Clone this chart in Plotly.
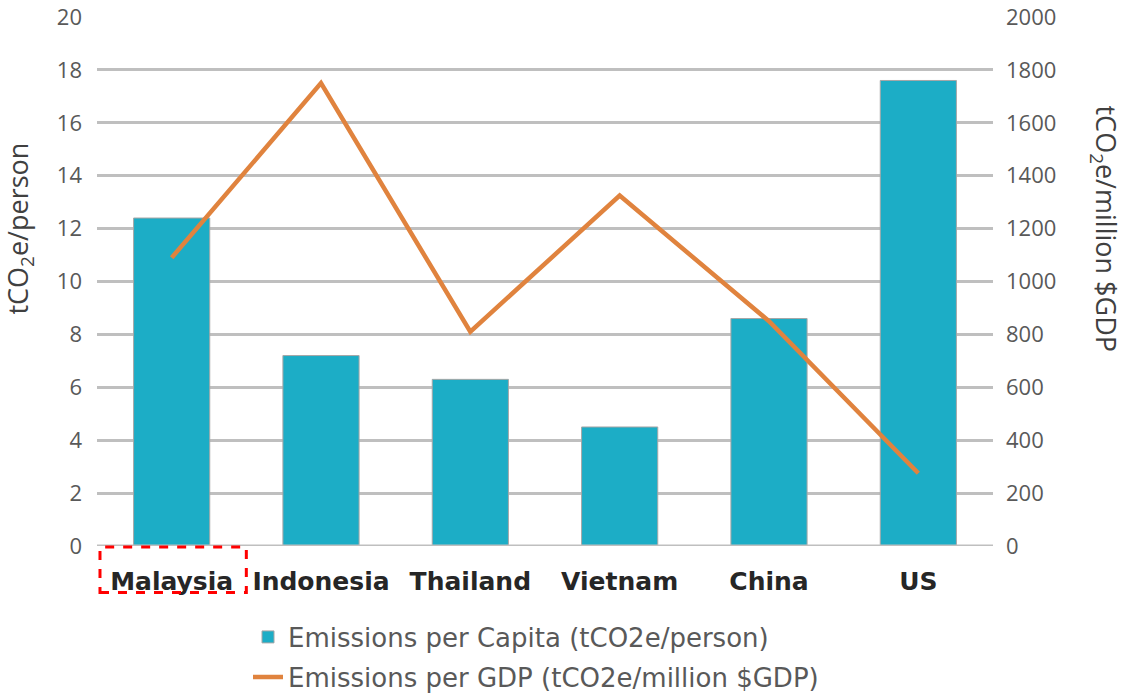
import plotly.graph_objects as go

countries = ["Malaysia", "Indonesia", "Thailand", "Vietnam", "China", "US"]
per_capita = [12.4, 7.2, 6.3, 4.5, 8.6, 17.6]
per_gdp = [1090, 1750, 810, 1325, 850, 275]

left_ticks = list(range(0, 21, 2))
right_ticks = list(range(0, 2001, 200))

tick_font = dict(family="Open Sans", size=22, color="#595959")
legend_font = dict(family="DejaVu Sans", size=26, color="#595959")
title_font = dict(family="Open Sans", size=27, color="#404040")

W, H = 1128, 695

fig = go.Figure()
fig.add_trace(go.Bar(
    x=countries, y=per_capita,
    name="Emissions per Capita (tCO2e/person)",
    marker=dict(color="#1cadc6", line=dict(color="#a6a6a6", width=1)),
    yaxis="y", legend="legend",
))
fig.add_trace(go.Scatter(
    x=countries, y=per_gdp,
    name="Emissions per GDP (tCO2e/million $GDP)",
    mode="lines",
    line=dict(color="#e0833e", width=4.5),
    yaxis="y2", legend="legend2",
))

fig.update_layout(
    width=W, height=H,
    margin=dict(l=97, r=135, t=17, b=149, autoexpand=False),
    paper_bgcolor="white", plot_bgcolor="white",
    bargap=0.49,
    showlegend=True,
    legend=dict(
        x=248 / W, y=1 - 637 / H, xref="container", yref="container",
        xanchor="left", yanchor="middle",
        font=legend_font, itemwidth=30,
        bgcolor="rgba(0,0,0,0)", borderwidth=0,
    ),
    legend2=dict(
        x=248 / W, y=1 - 677 / H, xref="container", yref="container",
        xanchor="left", yanchor="middle",
        font=legend_font, itemwidth=30,
        bgcolor="rgba(0,0,0,0)", borderwidth=0,
    ),
    xaxis=dict(
        type="category",
        tickfont=dict(family="DejaVu Sans", size=25, color="#262626", weight="bold"),
        showgrid=False, showline=False, zeroline=False,
        ticks="", ticklabelstandoff=18,
    ),
    yaxis=dict(
        range=[0, 20], tickvals=left_ticks,
        ticktext=[str(v) for v in left_ticks],
        tickfont=tick_font, ticklabeloverflow="allow",
        showgrid=True, gridcolor="#bfbfbf", gridwidth=2.5,
        zeroline=False, showline=False,
        ticks="", ticklabelstandoff=14,
    ),
    yaxis2=dict(
        range=[0, 2000], tickvals=right_ticks,
        ticktext=[str(v) for v in right_ticks],
        overlaying="y", side="right",
        tickfont=tick_font, ticklabeloverflow="allow",
        showgrid=False, zeroline=False, showline=False,
        ticks="", ticklabelstandoff=12,
    ),
    annotations=[
        dict(text="tCO<sub>2</sub>e/person", textangle=-90,
             xref="paper", yref="paper", x=-0.086, y=0.6, xanchor="center", yanchor="middle",
             showarrow=False, font=title_font),
        dict(text="tCO<sub>2</sub>e/million $GDP", textangle=90,
             xref="paper", yref="paper", x=1.124, y=0.6, xanchor="center", yanchor="middle",
             showarrow=False, font=title_font),
    ],
    shapes=[
        dict(type="line", xref="paper", yref="y", x0=0, x1=1, y0=0, y1=0,
             line=dict(color="#bfbfbf", width=3), layer="above"),
        dict(type="rect", xref="x", yref="paper",
             x0=-0.48, x1=0.5, y0=-0.088, y1=-0.002,
             line=dict(color="#ff0000", width=3, dash="dash"),
             fillcolor="rgba(0,0,0,0)"),
    ],
)

fig.write_html("out.html")
